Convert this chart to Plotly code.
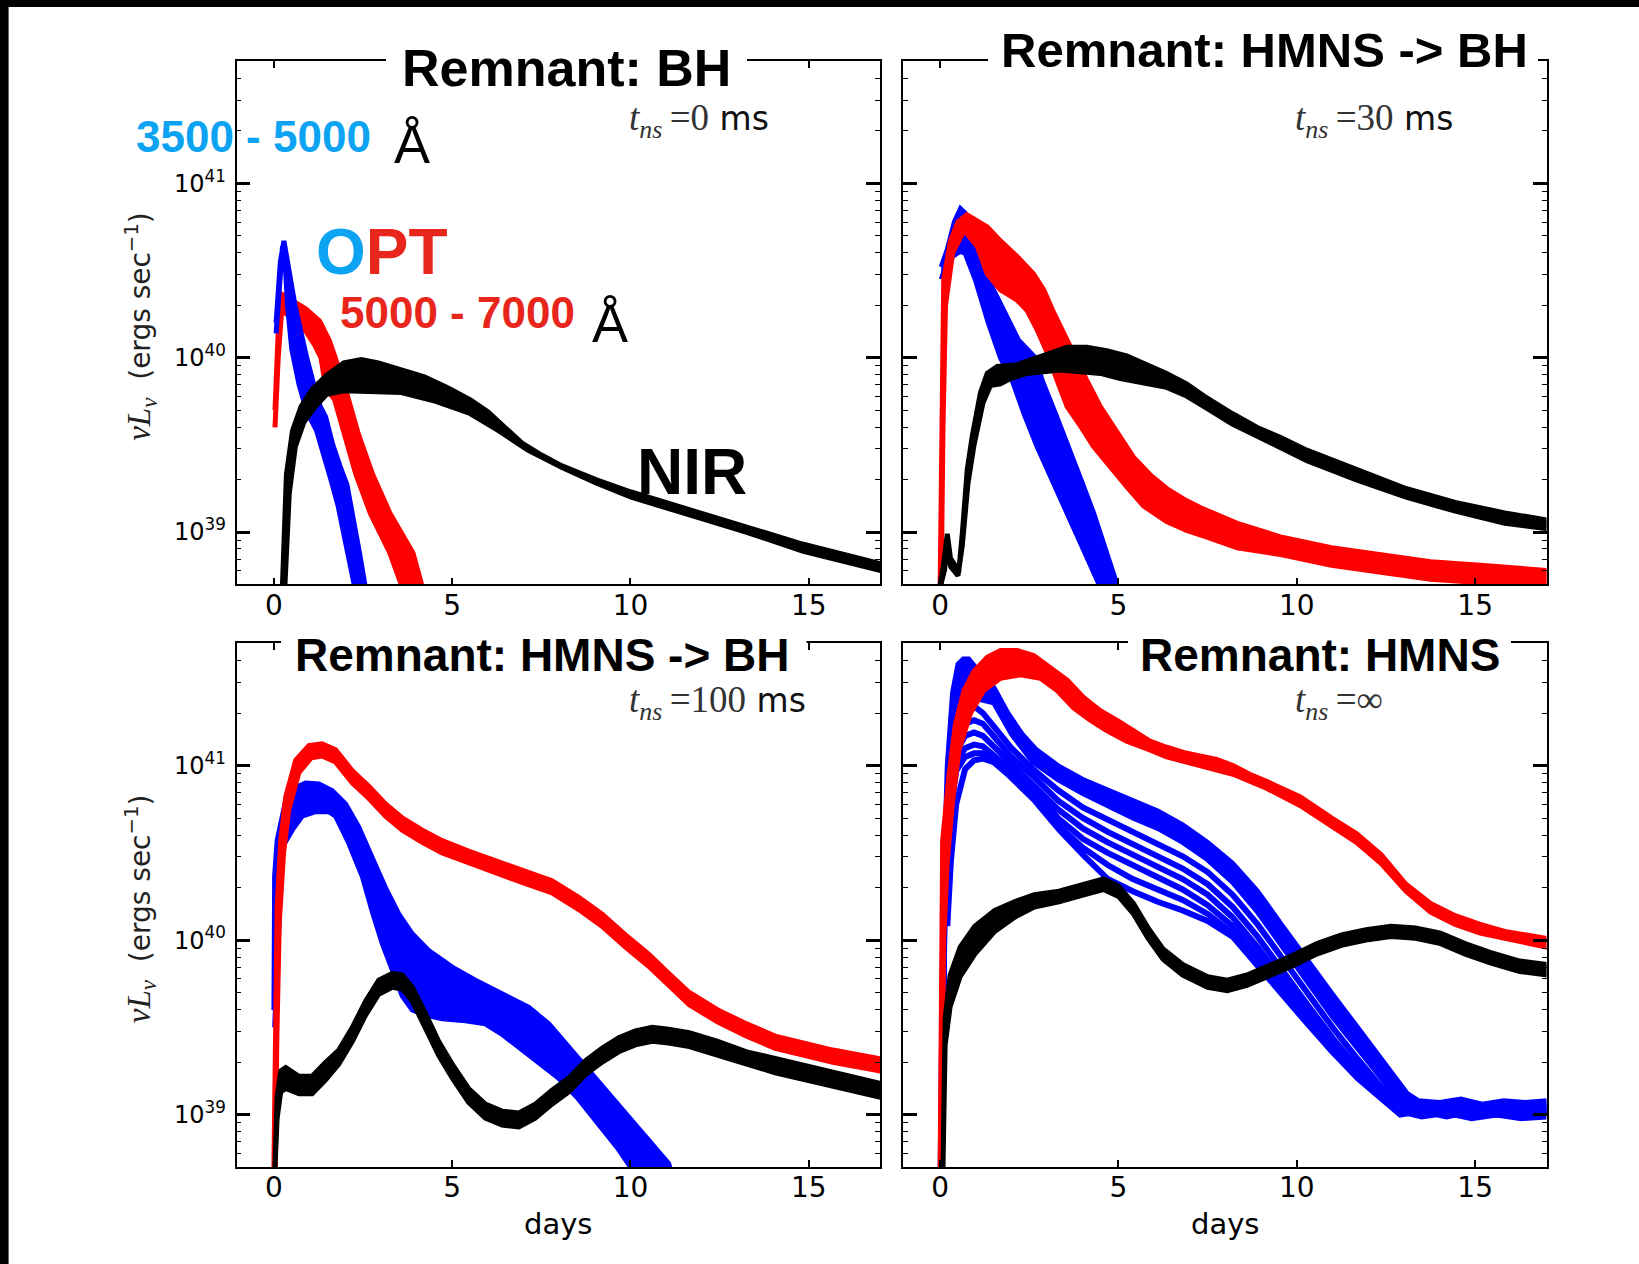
import math
import plotly.graph_objects as go
from plotly.subplots import make_subplots

# ---------------------------------------------------------------------------
# Axis ticks and labels
# ---------------------------------------------------------------------------
X_TICKS = [0, 5, 10, 15]
Y_TICKS = [1e39, 1e40, 1e41]
Y_TICK_TEXT = ["10<sup>39</sup>", "10<sup>40</sup>", "10<sup>41</sup>"]
X_RANGE = [-1.05, 17.0]
LOG_RANGE = [38.7, 41.7]

PANEL_TITLES = ["Remnant: BH", "Remnant: HMNS -> BH", "Remnant: HMNS -> BH", "Remnant: HMNS"]
PANEL_TNS = ["=0", "=30", "=100", "=\u221e"]
PANEL_TNS_UNIT = [" ms", " ms", " ms", ""]

# ---------------------------------------------------------------------------
# Light curves: days since merger, log10(nu L_nu / erg s^-1).
# Each band of viewing-angle curves is given by its two bounding curves.
# ---------------------------------------------------------------------------
# t_ns = 0 ms  (prompt BH)
BH_BLUE_A_T = [0.06, 0.15, 0.24, 0.30, 0.38, 0.50, 0.70, 0.88, 1.00, 1.20, 1.40, 1.60, 1.80, 1.98, 2.10, 2.25]
BH_BLUE_A_L = [40.14, 40.45, 40.64, 40.60, 40.30, 40.05, 39.85, 39.72, 39.66, 39.58, 39.45, 39.30, 39.15, 38.95, 38.85, 38.70]
BH_BLUE_B_T = [0.06, 0.18, 0.28, 0.36, 0.60, 0.92, 1.15, 1.30, 1.45, 1.65, 1.85, 2.05, 2.25, 2.40, 2.55]
BH_BLUE_B_L = [40.20, 40.55, 40.67, 40.58, 40.29, 40.00, 39.82, 39.72, 39.66, 39.50, 39.38, 39.27, 39.05, 38.88, 38.70]

BH_RED_A_T = [0.03, 0.12, 0.25, 0.50, 0.90, 1.28, 1.55, 1.72, 2.05, 2.37, 2.77, 3.25, 3.90, 4.14]
BH_RED_A_L = [39.70, 40.15, 40.36, 40.33, 40.28, 40.21, 40.10, 40.00, 39.79, 39.56, 39.33, 39.11, 38.88, 38.70]
BH_RED_B_T = [0.03, 0.12, 0.22, 0.35, 0.60, 0.90, 1.15, 1.32, 1.45, 1.70, 1.95, 2.30, 2.70, 3.25, 3.57]
BH_RED_B_L = [39.60, 40.00, 40.28, 40.25, 40.22, 40.15, 40.07, 40.00, 39.83, 39.76, 39.58, 39.33, 39.11, 38.88, 38.70]

BH_NIR_A_T = [0.24, 0.35, 0.52, 0.76, 1.08, 1.48, 1.96, 2.45, 2.93, 3.57, 4.22, 4.86, 5.50, 6.00, 6.47, 6.96, 7.44, 8.08, 9.05, 10.02, 11.63, 13.24, 14.85, 17.0]
BH_NIR_A_L = [38.70, 39.33, 39.58, 39.72, 39.82, 39.90, 39.97, 39.99, 39.97, 39.93, 39.89, 39.83, 39.76, 39.69, 39.60, 39.51, 39.45, 39.38, 39.30, 39.23, 39.13, 39.03, 38.93, 38.82]
BH_NIR_B_T = [0.31, 0.43, 0.60, 0.84, 1.16, 1.48, 1.96, 2.61, 3.57, 4.54, 5.50, 6.31, 7.12, 8.08, 9.05, 10.02, 11.63, 13.24, 14.85, 17.0]
BH_NIR_B_L = [38.70, 39.22, 39.49, 39.63, 39.72, 39.79, 39.81, 39.81, 39.80, 39.75, 39.68, 39.58, 39.47, 39.37, 39.28, 39.20, 39.10, 39.00, 38.89, 38.78]

# t_ns = 30 ms
MS30_BLUE_A_T = [0.03, 0.15, 0.35, 0.55, 0.70, 0.99, 1.35, 1.69, 2.02, 2.35, 2.72, 3.15, 3.56, 3.95, 4.39, 4.45]
MS30_BLUE_A_L = [40.45, 40.52, 40.58, 40.61, 40.60, 40.445, 40.20, 40.00, 39.87, 39.68, 39.49, 39.30, 39.11, 38.93, 38.73, 38.70]
MS30_BLUE_B_T = [0.03, 0.20, 0.40, 0.57, 0.70, 1.00, 1.36, 1.70, 2.20, 2.67, 2.86, 3.25, 3.60, 3.95, 4.30, 4.62, 4.91, 4.95]
MS30_BLUE_B_L = [40.52, 40.62, 40.78, 40.855, 40.83, 40.62, 40.445, 40.30, 40.10, 40.00, 39.87, 39.67, 39.49, 39.30, 39.11, 38.91, 38.73, 38.70]

MS30_RED_A_T = [0.0, 0.05, 0.10, 0.29, 0.50, 0.75, 1.32, 1.69, 2.16, 2.62, 2.90, 3.18, 3.46, 3.74, 4.11, 4.49, 4.95, 5.42, 5.88, 6.35, 6.82, 7.30, 8.33, 9.58, 10.97, 12.36, 13.75, 15.14, 17.0]
MS30_RED_A_L = [38.70, 39.60, 40.45, 40.67, 40.78, 40.82, 40.75, 40.67, 40.58, 40.48, 40.39, 40.26, 40.14, 40.03, 39.87, 39.72, 39.57, 39.43, 39.33, 39.25, 39.19, 39.14, 39.05, 38.97, 38.91, 38.87, 38.83, 38.81, 38.78]
MS30_RED_B_T = [0.03, 0.08, 0.15, 0.35, 0.67, 1.04, 1.32, 1.69, 2.16, 2.44, 2.72, 3.00, 3.28, 3.56, 3.93, 4.30, 4.67, 5.23, 5.70, 6.35, 6.91, 7.50, 8.33, 9.58, 10.97, 12.36, 13.75, 15.14, 17.0]
MS30_RED_B_L = [38.70, 39.60, 40.30, 40.60, 40.73, 40.64, 40.48, 40.39, 40.33, 40.27, 40.16, 40.03, 39.87, 39.72, 39.61, 39.49, 39.40, 39.26, 39.15, 39.06, 39.01, 38.97, 38.91, 38.87, 38.81, 38.77, 38.73, 38.71, 38.70]

MS30_NIR_A_T = [0.0, 0.10, 0.20, 0.29, 0.45, 0.53, 0.62, 0.76, 0.90, 1.13, 1.32, 1.60, 2.16, 2.60, 3.09, 3.56, 4.11, 4.67, 5.23, 5.79, 6.35, 6.91, 7.40, 8.19, 8.89, 9.58, 10.28, 11.67, 13.06, 14.44, 15.83, 17.0]
MS30_NIR_A_L = [38.70, 38.82, 38.99, 38.85, 38.80, 38.79, 38.99, 39.36, 39.55, 39.80, 39.91, 39.95, 39.96, 39.99, 40.03, 40.06, 40.06, 40.04, 40.01, 39.96, 39.91, 39.85, 39.78, 39.68, 39.60, 39.54, 39.47, 39.36, 39.25, 39.17, 39.11, 39.07]
MS30_NIR_B_T = [0.02, 0.12, 0.20, 0.30, 0.50, 0.62, 0.78, 0.95, 1.20, 1.41, 1.69, 1.97, 2.44, 2.90, 3.37, 3.93, 4.49, 5.05, 5.60, 6.35, 6.91, 7.40, 8.19, 8.89, 9.58, 10.28, 11.67, 13.06, 14.44, 15.83, 17.0]
MS30_NIR_B_L = [38.70, 38.78, 38.90, 38.80, 38.75, 38.92, 39.28, 39.50, 39.74, 39.84, 39.85, 39.88, 39.91, 39.92, 39.93, 39.92, 39.91, 39.88, 39.86, 39.83, 39.78, 39.72, 39.62, 39.55, 39.48, 39.41, 39.30, 39.20, 39.12, 39.05, 39.02]

# t_ns = 100 ms
MS100_BLUE_A_T = [0.0, 0.02, 0.09, 0.33, 0.56, 0.89, 1.26, 1.63, 2.01, 2.38, 2.75, 3.13, 3.50, 3.88, 4.34, 5.00, 5.65, 6.40, 7.15, 7.71, 8.27, 8.83, 9.39, 9.95, 10.51, 11.07, 11.10]
MS100_BLUE_A_L = [39.60, 40.37, 40.57, 40.80, 40.87, 40.90, 40.895, 40.857, 40.78, 40.647, 40.475, 40.30, 40.15, 40.036, 39.94, 39.845, 39.77, 39.69, 39.615, 39.52, 39.386, 39.25, 39.12, 38.98, 38.85, 38.72, 38.70]
MS100_BLUE_B_T = [0.02, 0.23, 0.51, 0.79, 1.17, 1.54, 1.73, 2.10, 2.48, 2.75, 3.04, 3.32, 3.60, 3.88, 4.25, 4.72, 5.28, 5.93, 6.40, 7.15, 7.98, 8.50, 9.20, 9.67, 10.0]
MS100_BLUE_B_L = [39.50, 40.53, 40.63, 40.71, 40.736, 40.736, 40.71, 40.555, 40.364, 40.17, 39.98, 39.83, 39.68, 39.60, 39.57, 39.55, 39.54, 39.52, 39.46, 39.34, 39.21, 39.10, 38.92, 38.80, 38.70]

MS100_RED_A_T = [0.0, 0.03, 0.09, 0.19, 0.33, 0.61, 0.98, 1.35, 1.73, 2.20, 2.67, 3.13, 3.60, 4.16, 4.72, 5.46, 6.21, 6.96, 7.80, 8.55, 9.20, 9.86, 10.51, 11.07, 11.65, 12.45, 13.26, 14.06, 14.87, 15.68, 17.0]
MS100_RED_A_L = [38.70, 39.42, 40.19, 40.57, 40.82, 41.03, 41.115, 41.125, 41.09, 40.97, 40.88, 40.78, 40.70, 40.63, 40.57, 40.51, 40.455, 40.40, 40.34, 40.245, 40.15, 40.03, 39.92, 39.81, 39.70, 39.60, 39.52, 39.45, 39.41, 39.37, 39.32]
MS100_RED_B_T = [0.04, 0.08, 0.15, 0.27, 0.42, 0.70, 1.05, 1.35, 1.73, 2.20, 2.67, 3.13, 3.60, 4.16, 4.72, 5.46, 6.21, 6.96, 7.80, 8.55, 9.20, 9.86, 10.51, 11.07, 11.65, 12.45, 13.26, 14.06, 14.87, 15.68, 17.0]
MS100_RED_B_L = [38.70, 39.42, 40.10, 40.50, 40.75, 40.96, 41.045, 41.055, 41.02, 40.90, 40.81, 40.71, 40.63, 40.56, 40.50, 40.44, 40.385, 40.33, 40.27, 40.175, 40.08, 39.96, 39.85, 39.74, 39.63, 39.53, 39.45, 39.38, 39.34, 39.30, 39.25]

MS100_NIR_T = [0.03, 0.09, 0.19, 0.33, 0.70, 1.07, 1.45, 1.82, 2.20, 2.57, 2.94, 3.32, 3.60, 3.88, 4.25, 4.62, 5.00, 5.46, 5.93, 6.40, 6.87, 7.33, 7.80, 8.27, 8.74, 9.20, 9.67, 10.14, 10.61, 11.07, 11.65, 12.45, 13.26, 14.06, 14.87, 15.68, 17.0]
MS100_NIR_A_L = [38.70, 39.10, 39.25, 39.27, 39.22, 39.22, 39.30, 39.37, 39.50, 39.65, 39.77, 39.81, 39.80, 39.73, 39.58, 39.42, 39.29, 39.15, 39.06, 39.02, 39.01, 39.06, 39.14, 39.21, 39.31, 39.38, 39.44, 39.48, 39.50, 39.49, 39.47, 39.42, 39.36, 39.32, 39.28, 39.24, 39.18]
MS100_NIR_B_L = [38.70, 38.98, 39.13, 39.15, 39.12, 39.12, 39.20, 39.29, 39.42, 39.57, 39.69, 39.73, 39.72, 39.65, 39.50, 39.34, 39.21, 39.07, 38.98, 38.94, 38.93, 38.98, 39.06, 39.13, 39.23, 39.30, 39.36, 39.40, 39.42, 39.41, 39.39, 39.34, 39.29, 39.24, 39.20, 39.16, 39.10]

# t_ns = infinity (long-lived HMNS)
INF_BLUE_1_T = [0.0, 0.08, 0.2, 0.35, 0.5, 0.65, 0.8, 1.0, 1.25, 1.5, 1.9, 2.3, 2.7, 3.3, 4.0, 4.7, 5.4, 6.1, 6.8, 7.5, 8.2, 8.9, 9.6, 10.3, 11.0, 11.7, 12.4, 13.1, 13.4, 14.0, 14.6, 15.2, 15.8, 16.4, 17.0]
INF_BLUE_1_L = [38.7, 40.2, 41.0, 41.42, 41.58, 41.61, 41.61, 41.56, 41.48, 41.45, 41.30, 41.18, 41.09, 41.0, 40.92, 40.86, 40.80, 40.74, 40.66, 40.56, 40.44, 40.28, 40.08, 39.88, 39.69, 39.50, 39.31, 39.12, 39.08, 39.07, 39.09, 39.06, 39.08, 39.07, 39.08]
INF_BLUE_2_T = [0.02, 0.1, 0.22, 0.4, 0.6, 0.85, 1.1, 1.5, 2.0, 2.6, 3.3, 4.0, 4.7, 5.4, 6.1, 6.8, 7.5, 8.2, 8.9, 9.6, 10.3, 11.0, 11.7, 12.4, 13.0, 13.5, 14.2, 14.9, 15.6, 16.3, 17.0]
INF_BLUE_2_L = [38.7, 40.3, 40.95, 41.30, 41.40, 41.40, 41.38, 41.36, 41.18, 41.02, 40.92, 40.84, 40.77, 40.70, 40.64, 40.56, 40.46, 40.33, 40.16, 39.96, 39.76, 39.56, 39.38, 39.20, 39.03, 39.00, 39.02, 38.99, 39.02, 39.00, 39.01]
INF_BLUE_T = [0.03, 0.12, 0.25, 0.45, 0.7, 0.95, 1.2, 1.6, 2.0, 2.6, 3.3, 4.0, 4.7, 5.4, 6.1, 6.8, 7.5, 8.2, 8.9, 9.6, 10.3, 11.0, 11.7, 12.4, 12.9, 13.5, 14.2, 14.9, 15.6, 16.3, 17.0]
INF_BLUE_3_L = [38.7, 40.3, 40.9, 41.22, 41.32, 41.34, 41.30, 41.20, 41.10, 40.98, 40.86, 40.76, 40.69, 40.62, 40.55, 40.48, 40.39, 40.26, 40.09, 39.89, 39.69, 39.50, 39.32, 39.15, 39.05, 39.05, 39.02, 39.05, 39.03, 39.05, 39.03]
INF_BLUE_4_L = [38.7, 40.25, 40.85, 41.15, 41.24, 41.26, 41.24, 41.14, 41.05, 40.94, 40.80, 40.70, 40.62, 40.55, 40.48, 40.41, 40.32, 40.19, 40.02, 39.82, 39.63, 39.44, 39.27, 39.12, 39.04, 39.06, 39.03, 39.06, 39.04, 39.06, 39.04]
INF_BLUE_5_L = [38.7, 40.2, 40.8, 41.08, 41.17, 41.19, 41.17, 41.09, 41.01, 40.90, 40.75, 40.64, 40.56, 40.49, 40.42, 40.35, 40.26, 40.13, 39.96, 39.77, 39.58, 39.40, 39.24, 39.10, 39.02, 39.04, 39.01, 39.04, 39.02, 39.04, 39.02]
INF_BLUE_6_L = [38.7, 40.15, 40.74, 41.02, 41.10, 41.12, 41.11, 41.04, 40.97, 40.87, 40.70, 40.58, 40.50, 40.43, 40.36, 40.29, 40.20, 40.08, 39.91, 39.73, 39.55, 39.38, 39.22, 39.09, 39.01, 39.03, 39.00, 39.03, 39.01, 39.03, 39.01]
INF_BLUE_7_L = [38.7, 40.1, 40.68, 40.97, 41.05, 41.07, 41.07, 41.01, 40.94, 40.84, 40.66, 40.53, 40.43, 40.35, 40.29, 40.23, 40.15, 40.04, 39.87, 39.70, 39.53, 39.36, 39.21, 39.09, 39.00, 39.02, 38.99, 39.02, 39.00, 39.02, 39.00]
INF_BLUE_8_T = [0.2, 0.3, 0.45, 0.7, 0.95, 1.2, 1.5, 1.95, 2.65, 3.35, 4.05, 4.7, 5.4, 6.1, 6.8, 7.5, 8.2, 8.9, 9.6, 10.3, 11.0, 11.7, 12.4, 12.9, 13.5, 14.2, 14.9, 15.6, 16.3, 17.0]
INF_BLUE_8_L = [40.08, 40.45, 40.78, 40.98, 41.03, 41.04, 41.02, 40.94, 40.80, 40.63, 40.48, 40.35, 40.28, 40.22, 40.17, 40.11, 40.02, 39.85, 39.69, 39.52, 39.36, 39.22, 39.10, 39.02, 38.99, 39.01, 38.98, 39.00, 38.98, 38.99]

INF_RED_A_T = [0.0, 0.03, 0.07, 0.25, 0.43, 0.67, 0.95, 1.32, 1.69, 2.16, 2.62, 3.09, 3.56, 4.02, 4.49, 4.95, 5.42, 5.88, 6.35, 6.82, 7.28, 7.75, 8.21, 8.68, 9.15, 9.61, 10.1, 10.97, 11.67, 12.36, 13.06, 13.75, 14.44, 15.14, 15.83, 17.0]
INF_RED_A_L = [38.70, 39.80, 40.57, 40.95, 41.24, 41.43, 41.54, 41.62, 41.66, 41.66, 41.63, 41.56, 41.49, 41.39, 41.315, 41.26, 41.20, 41.14, 41.105, 41.075, 41.055, 41.035, 41.0, 40.95, 40.91, 40.87, 40.82, 40.70, 40.61, 40.49, 40.32, 40.21, 40.14, 40.09, 40.05, 40.01]
INF_RED_B_T = [0.04, 0.1, 0.2, 0.35, 0.53, 0.85, 1.22, 1.69, 2.25, 2.81, 3.28, 3.74, 4.21, 4.67, 5.23, 5.88, 6.35, 7.28, 8.21, 9.15, 10.1, 10.97, 11.67, 12.36, 13.06, 13.75, 14.44, 15.14, 15.83, 17.0]
INF_RED_B_L = [38.70, 40.00, 40.45, 40.80, 41.09, 41.30, 41.43, 41.50, 41.52, 41.50, 41.43, 41.33, 41.26, 41.20, 41.14, 41.09, 41.05, 41.00, 40.95, 40.87, 40.77, 40.65, 40.56, 40.44, 40.28, 40.16, 40.09, 40.04, 40.01, 39.96]

INF_NIR_T = [0.08, 0.14, 0.28, 0.56, 0.97, 1.53, 2.08, 2.64, 3.33, 4.03, 4.58, 5.0, 5.42, 5.83, 6.25, 6.8, 7.5, 8.05, 8.6, 9.17, 9.86, 10.56, 11.25, 11.94, 12.64, 13.33, 14.03, 14.72, 15.42, 16.25, 17.0]
INF_NIR_A_L = [38.70, 39.55, 39.80, 39.96, 40.08, 40.17, 40.22, 40.26, 40.28, 40.32, 40.35, 40.31, 40.21, 40.07, 39.95, 39.86, 39.79, 39.77, 39.80, 39.85, 39.91, 39.98, 40.03, 40.06, 40.08, 40.07, 40.04, 39.98, 39.93, 39.88, 39.86]
INF_NIR_B_L = [38.70, 39.40, 39.62, 39.79, 39.92, 40.05, 40.13, 40.19, 40.22, 40.26, 40.29, 40.25, 40.15, 40.01, 39.89, 39.80, 39.73, 39.71, 39.74, 39.79, 39.85, 39.92, 39.97, 40.00, 40.02, 40.01, 39.98, 39.92, 39.87, 39.82, 39.80]

# ---------------------------------------------------------------------------
# Styling
# ---------------------------------------------------------------------------
W, H = 1639, 1264
BLUE, RED, BLACK = "#0000ff", "#ff0000", "#000000"
TXT_BLUE, TXT_RED = "#0ba3f2", "#e8261c"
SANS, BOLD_SANS = "DejaVu Sans", "Liberation Sans"
EDGE_W, LINE_W = 5, 6

# panel boxes in pixels: (left, right, top, bottom)
BOXES = [(236.5, 880.0, 61.3, 584.4), (902.7, 1546.5, 61.3, 584.4),
         (236.5, 880.0, 643.4, 1167.0), (902.7, 1546.5, 643.4, 1167.0)]


def px(x):
    return x / W


def py(y):
    return 1 - y / H


fig = make_subplots(rows=2, cols=2)
CELLS = [(1, 1), (1, 2), (2, 1), (2, 2)]


def band(t_a, l_a, t_b, l_b, color, cell, width=EDGE_W):
    xs = list(t_a) + list(t_b)[::-1]
    ys = [10 ** v for v in list(l_a) + list(l_b)[::-1]]
    fig.add_trace(go.Scatter(x=xs, y=ys, mode="lines", fill="toself", fillcolor=color,
                             line=dict(color=color, width=width), hoverinfo="skip",
                             showlegend=False), row=cell[0], col=cell[1])


def curve(t, l, color, cell, width=LINE_W):
    fig.add_trace(go.Scatter(x=t, y=[10 ** v for v in l], mode="lines",
                             line=dict(color=color, width=width), hoverinfo="skip",
                             showlegend=False), row=cell[0], col=cell[1])


# t_ns = 0
band(BH_RED_A_T, BH_RED_A_L, BH_RED_B_T, BH_RED_B_L, RED, CELLS[0])
band(BH_BLUE_A_T, BH_BLUE_A_L, BH_BLUE_B_T, BH_BLUE_B_L, BLUE, CELLS[0])
band(BH_NIR_A_T, BH_NIR_A_L, BH_NIR_B_T, BH_NIR_B_L, BLACK, CELLS[0])

# t_ns = 30 ms
band(MS30_BLUE_A_T, MS30_BLUE_A_L, MS30_BLUE_B_T, MS30_BLUE_B_L, BLUE, CELLS[1])
band(MS30_RED_A_T, MS30_RED_A_L, MS30_RED_B_T, MS30_RED_B_L, RED, CELLS[1])
band(MS30_NIR_A_T, MS30_NIR_A_L, MS30_NIR_B_T, MS30_NIR_B_L, BLACK, CELLS[1])

# t_ns = 100 ms
band(MS100_BLUE_A_T, MS100_BLUE_A_L, MS100_BLUE_B_T, MS100_BLUE_B_L, BLUE, CELLS[2])
band(MS100_RED_A_T, MS100_RED_A_L, MS100_RED_B_T, MS100_RED_B_L, RED, CELLS[2])
band(MS100_NIR_T, MS100_NIR_A_L, MS100_NIR_T, MS100_NIR_B_L, BLACK, CELLS[2])

# t_ns = infinity
band(INF_BLUE_1_T, INF_BLUE_1_L, INF_BLUE_2_T, INF_BLUE_2_L, BLUE, CELLS[3])
for lum in (INF_BLUE_3_L, INF_BLUE_4_L, INF_BLUE_5_L, INF_BLUE_6_L, INF_BLUE_7_L):
    curve(INF_BLUE_T, lum, BLUE, CELLS[3])
curve(INF_BLUE_8_T, INF_BLUE_8_L, BLUE, CELLS[3])
band(INF_RED_A_T, INF_RED_A_L, INF_RED_B_T, INF_RED_B_L, RED, CELLS[3])
band(INF_NIR_T, INF_NIR_A_L, INF_NIR_T, INF_NIR_B_L, BLACK, CELLS[3])

# ---------------------------------------------------------------------------
# Axes
# ---------------------------------------------------------------------------
MINOR_Y = [k * 10.0 ** e for e in (38, 39, 40, 41) for k in range(2, 10)
           if LOG_RANGE[0] <= e + math.log10(k) <= LOG_RANGE[1]]

layout_axes = {}
for i, (l, r, t, b) in enumerate(BOXES):
    sfx = "" if i == 0 else str(i + 1)
    layout_axes["xaxis" + sfx] = dict(
        domain=[px(l), px(r)], range=X_RANGE, tickvals=X_TICKS,
        ticks="inside", ticklen=7, tickwidth=1.5, tickcolor="black",
        ticklabelstandoff=-5,
        showline=True, linecolor="black", linewidth=1.6, mirror="ticks",
        showgrid=False, zeroline=False,
        tickfont=dict(family=SANS, size=28, color="black"))
    layout_axes["yaxis" + sfx] = dict(
        domain=[py(b), py(t)], type="log", range=LOG_RANGE,
        tickvals=Y_TICKS, ticktext=Y_TICK_TEXT, showticklabels=(i % 2 == 0),
        ticklabelstandoff=4,
        ticks="inside", ticklen=14, tickwidth=3, tickcolor="black",
        minor=dict(ticks="inside", ticklen=5, tickwidth=1.2, tickcolor="black",
                   tickvals=MINOR_Y, showgrid=False),
        showline=True, linecolor="black", linewidth=1.6, mirror="ticks",
        showgrid=False, zeroline=False,
        tickfont=dict(family=SANS, size=24, color="black"))

# ---------------------------------------------------------------------------
# Annotations
# ---------------------------------------------------------------------------
ann = []
shapes = []

# panel titles sit in a white gap cut out of the top frame line
title_geo = [(566, 68, 52, 386, 747), (1264, 50, 49, 988, 1538),
             (542, 655, 46, 281, 806.5), (1320, 655, 46, 1128, 1511)]
for i, (cx, cy, fs, g0, g1) in enumerate(title_geo):
    top = BOXES[i][2]
    shapes.append(dict(type="rect", xref="paper", yref="paper", layer="above",
                       x0=px(g0), x1=px(g1), y0=py(top + 8), y1=py(top - 6),
                       fillcolor="white", line=dict(width=0)))
    ann.append(dict(text=PANEL_TITLES[i], x=px(cx), y=py(cy), xref="paper", yref="paper",
                    xanchor="center", yanchor="middle", showarrow=False,
                    font=dict(family=BOLD_SANS, size=fs, color="black", weight="bold")))

# t_ns labels
for i, (l, r, t, b) in enumerate(BOXES):
    txt = ('<span style="font-family:Liberation Serif;font-size:37px;color:#333333">'
           '<i>t</i><sub><i>ns</i></sub>\u2009' + PANEL_TNS[i] + "</span>" + PANEL_TNS_UNIT[i])
    ann.append(dict(text=txt, x=px(l + 390), y=py(t + 59), xref="paper", yref="paper",
                    xanchor="left", yanchor="middle", showarrow=False,
                    font=dict(family=SANS, size=33, color="#111111")))

# y-axis titles
for i in (0, 2):
    l, r, t, b = BOXES[i]
    ann.append(dict(text='<span style="font-family:Liberation Serif;font-size:33px"><i>\u03bdL</i><sub><i>\u03bd</i></sub></span>'
                         '\u00a0\u00a0(ergs sec<sup>\u22121</sup>)',
                    x=px(141), y=py((t + b) / 2 + 4), xref="paper", yref="paper",
                    xanchor="center", yanchor="middle", textangle=-90, showarrow=False,
                    font=dict(family=SANS, size=28, color="#222222")))

# x-axis titles
for i in (2, 3):
    l, r, t, b = BOXES[i]
    ann.append(dict(text="days", x=px((l + r) / 2), y=py(b + 57), xref="paper", yref="paper",
                    xanchor="center", yanchor="middle", showarrow=False,
                    font=dict(family=SANS, size=29, color="black")))

# band labels in the first panel
ann += [
    dict(text="3500 - 5000", x=px(134), y=py(136.5), xanchor="left", yanchor="middle",
         font=dict(family=BOLD_SANS, size=44, color=TXT_BLUE, weight="bold")),
    dict(text="\u00c5", x=px(392), y=py(144), xanchor="left", yanchor="middle",
         font=dict(family=BOLD_SANS, size=54, color="black")),
    dict(text=f'<span style="color:{TXT_BLUE}">O</span><span style="color:{TXT_RED}">PT</span>',
         x=px(314), y=py(252), xanchor="left", yanchor="middle",
         font=dict(family=BOLD_SANS, size=64, color=TXT_RED, weight="bold")),
    dict(text="5000 - 7000", x=px(338), y=py(312.5), xanchor="left", yanchor="middle",
         font=dict(family=BOLD_SANS, size=44, color=TXT_RED, weight="bold")),
    dict(text="\u00c5", x=px(590), y=py(323), xanchor="left", yanchor="middle",
         font=dict(family=BOLD_SANS, size=54, color="black")),
    dict(text="NIR", x=px(635), y=py(471.5), xanchor="left", yanchor="middle",
         font=dict(family=BOLD_SANS, size=64, color="black", weight="bold")),
]
for a in ann[-6:]:
    a.update(xref="paper", yref="paper", showarrow=False)

# dark frame strips along the left and top edges
shapes.append(dict(type="rect", xref="paper", yref="paper", layer="above",
                   x0=0, x1=px(8.6), y0=0, y1=1, fillcolor="black", line=dict(width=0)))
shapes.append(dict(type="rect", xref="paper", yref="paper", layer="above",
                   x0=0, x1=1, y0=py(7), y1=1, fillcolor="black", line=dict(width=0)))

fig.update_layout(
    width=W, height=H, autosize=False,
    margin=dict(l=0, r=0, t=0, b=0),
    paper_bgcolor="white", plot_bgcolor="white",
    showlegend=False, annotations=ann, shapes=shapes,
    **layout_axes)

fig.write_html("out.html")
